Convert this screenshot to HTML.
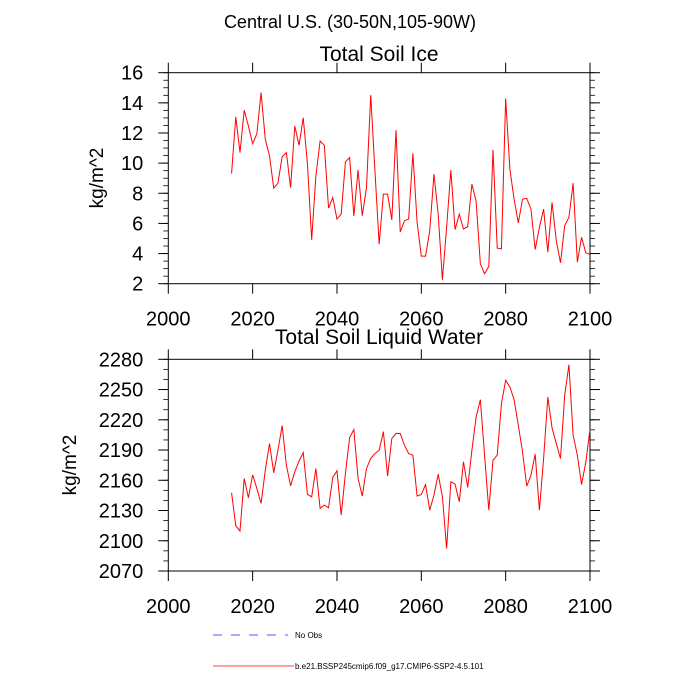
<!DOCTYPE html>
<html><head><meta charset="utf-8">
<style>
html,body{margin:0;padding:0;background:#fff;}
svg{display:block;font-family:"Liberation Sans",sans-serif;}
</style></head>
<body>
<svg id="chart" width="700" height="700" viewBox="0 0 700 700">
<text x="350" y="28" font-size="18" text-anchor="middle">Central U.S. (30-50N,105-90W)</text>
<text x="379" y="61" font-size="21" text-anchor="middle">Total Soil Ice</text>
<text x="379" y="344" font-size="21" text-anchor="middle">Total Soil Liquid Water</text>
<text transform="translate(103,178) rotate(-90)" font-size="19" text-anchor="middle">kg/m^2</text>
<text transform="translate(76,465) rotate(-90)" font-size="19" text-anchor="middle">kg/m^2</text>
<g id="ice"></g>
<g id="water"></g>
<g>
<line x1="213" y1="635" x2="288" y2="635" stroke="#5555ff" stroke-width="1" stroke-dasharray="9,9"/>
<text x="295" y="638" font-size="8">No Obs</text>
<line x1="213" y1="666" x2="294" y2="666" stroke="#ff4444" stroke-width="1"/>
<text x="295" y="669" font-size="8">b.e21.BSSP245cmip6.f09_g17.CMIP6-SSP2-4.5.101</text>
</g>
</svg>
<script>
const years = [];
for (let y = 2015; y <= 2100; y++) years.push(y);
const iceValues = [9.31,13.07,10.70,13.51,12.46,11.29,11.95,14.68,11.58,10.48,8.34,8.67,10.43,10.70,8.38,12.46,11.18,13.01,9.93,4.91,9.16,11.47,11.18,7.02,7.72,6.29,6.62,10.08,10.37,6.49,9.55,6.51,8.38,14.51,9.5,4.62,7.94,7.94,6.23,12.19,5.43,6.18,6.29,10.65,6.07,3.83,3.83,5.52,9.27,6.62,2.26,5.74,9.53,5.59,6.62,5.63,5.79,8.61,7.46,3.32,2.66,3.14,10.89,4.36,4.31,14.29,9.60,7.61,6.03,7.61,7.66,6.95,4.27,5.74,6.95,4.09,7.39,4.86,3.39,5.85,6.40,8.67,3.43,5.08,4.05,3.94];
const waterValues = [2147.6,2114.9,2109.6,2161.8,2142.6,2165.4,2151.9,2137.0,2170.0,2196.4,2167.4,2189.8,2214.3,2175.0,2154.5,2168.4,2179.0,2187.5,2145.9,2143.6,2171.7,2132.1,2135.4,2132.7,2162.8,2169.4,2125.5,2166.7,2202.4,2210.3,2161.8,2144.3,2171.7,2181.6,2186.5,2189.8,2208.3,2164.1,2201.4,2206.4,2206.4,2194.8,2186.5,2184.9,2144.3,2145.9,2155.8,2130.4,2145.3,2166.1,2143.6,2092.4,2158.5,2156.2,2138.7,2178.3,2152.9,2189.9,2222.9,2240.0,2184.9,2130.4,2180.0,2184.9,2236.1,2259.2,2252.6,2240.0,2214.6,2188.2,2154.2,2165.1,2185.9,2130.4,2181.6,2242.7,2212.0,2196.5,2181.6,2244.3,2274.7,2204.7,2184.9,2155.8,2177.6,2210.7];
const xTicks = [2000,2020,2040,2060,2080,2100];
const iceTicks = [2,4,6,8,10,12,14,16];
const waterTicks = [2070,2100,2130,2160,2190,2220,2250,2280];

const NS = "http://www.w3.org/2000/svg";
function mk(parent, tag, attrs) {
  const e = document.createElementNS(NS, tag);
  for (const k in attrs) e.setAttribute(k, attrs[k]);
  parent.appendChild(e);
  return e;
}
function panel(gid, top, bottom, yMin, yMax, ticks, minorStep, values, name) {
  const g = document.getElementById(gid);
  const L = 168.3, R = 590;
  const xs = v => L + (v - 2000) / 100 * (R - L);
  const ys = v => bottom - (v - yMin) / (yMax - yMin) * (bottom - top);
  const frame = mk(g, 'rect', {x: L, y: top, width: R - L, height: bottom - top, fill: 'none', stroke: '#000', 'stroke-width': 1});
  
  
  for (let v = yMin; v <= yMax + 1e-9; v += minorStep) {
    const y = ys(v);
    const t1 = mk(g, 'line', {x1: L - 5, y1: y, x2: L, y2: y, stroke: '#000', 'stroke-width': 0.8});
    
    
    const t2 = mk(g, 'line', {x1: R, y1: y, x2: R + 5, y2: y, stroke: '#000', 'stroke-width': 0.8});
    
    
  }
  ticks.forEach(v => {
    const y = ys(v);
    const a = mk(g, 'line', {x1: L - 10, y1: y, x2: L, y2: y, stroke: '#000', 'stroke-width': 1});
    
    
    const b = mk(g, 'line', {x1: R, y1: y, x2: R + 10, y2: y, stroke: '#000', 'stroke-width': 1});
    
    
    const t = mk(g, 'text', {x: L - 25, y: y + 7, 'font-size': 20, 'text-anchor': 'end'});
    t.textContent = v;
    
    
  });
  xTicks.forEach(v => {
    const x = xs(v);
    const a = mk(g, 'line', {x1: x, y1: top - 10, x2: x, y2: top, stroke: '#000', 'stroke-width': 1});
    
    
    const b = mk(g, 'line', {x1: x, y1: bottom, x2: x, y2: bottom + 10, stroke: '#000', 'stroke-width': 1});
    
    
    const t = mk(g, 'text', {x: x, y: bottom + 42, 'font-size': 20, 'text-anchor': 'middle'});
    t.textContent = v;
    
    
  });
  const pts = values.map((v, i) => xs(years[i]).toFixed(2) + ',' + ys(v).toFixed(2)).join(' ');
  const line = mk(g, 'polyline', {points: pts, fill: 'none', stroke: '#ff0000', 'stroke-width': 1});
  
  
}
panel('ice', 72.7, 283.7, 2, 16, iceTicks, 0.5, iceValues, 'ice');
panel('water', 359.3, 571, 2070, 2280, waterTicks, 10, waterValues, 'water');
</script>
</body></html>
